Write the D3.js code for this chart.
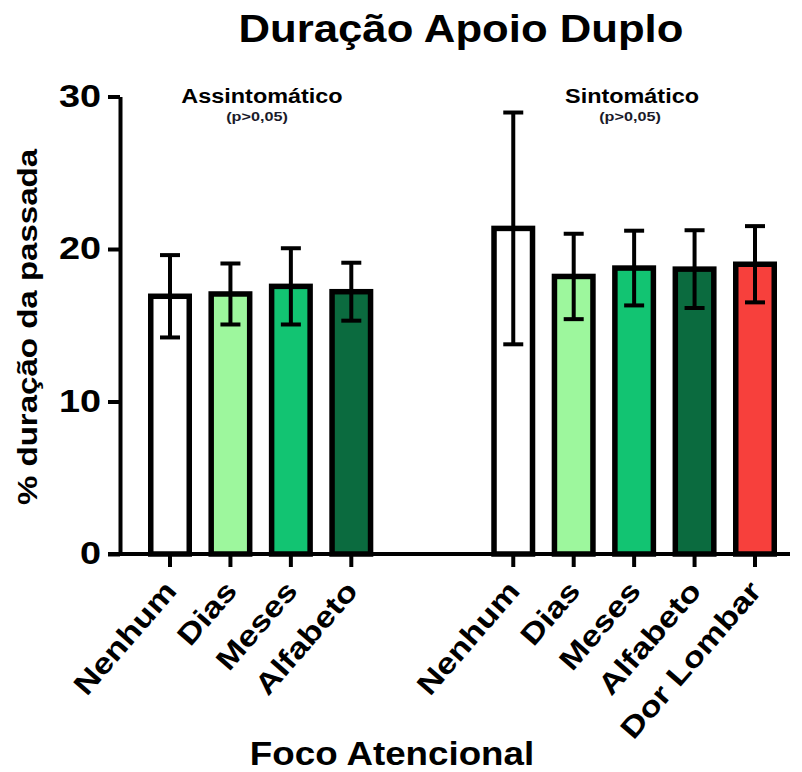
<!DOCTYPE html>
<html>
<head>
<meta charset="utf-8">
<script src="https://cdn.jsdelivr.net/npm/d3@7"></script>
<style>
  html, body { margin: 0; padding: 0; background: #fff; }
  svg { display: block; font-family: "Liberation Sans", Arial, sans-serif; }
</style>
</head>
<body>
<svg id="chart" width="802" height="772"></svg>
<script>
// Double-support duration (% of stride), mean ± SD per attentional focus
const groupNames = ["Assintomático", "Sintomático"];
const groupNotes = ["(p>0,05)", "(p>0,05)"];

const asympCategories = ["Nenhum", "Dias", "Meses", "Alfabeto"];
const asympMeans = [16.9, 17.05, 17.55, 17.2];
const asympSD = [2.7, 2.0, 2.5, 1.9];
const asympColors = ["#ffffff", "#9df79d", "#12c472", "#0b6b3f"];

const sympCategories = ["Nenhum", "Dias", "Meses", "Alfabeto", "Dor Lombar"];
const sympMeans = [21.35, 18.2, 18.75, 18.68, 19.0];
const sympSD = [7.6, 2.8, 2.45, 2.55, 2.5];
const sympColors = ["#ffffff", "#9df79d", "#12c472", "#0b6b3f", "#f7403c"];

const yTicks = [0, 10, 20, 30];

const title = "Duração Apoio Duplo";
const yTitle = "% duração da passada";
const xTitle = "Foco Atencional";

// Build flat bar list; each bar gets a slot index, with a wider gap between groups
const groupGap = 5.68;
const bars = [];
asympCategories.forEach((c, i) => bars.push({
  group: 0, cat: c, mean: asympMeans[i], sd: asympSD[i], color: asympColors[i], slot: i
}));
sympCategories.forEach((c, i) => bars.push({
  group: 1, cat: c, mean: sympMeans[i], sd: sympSD[i], color: sympColors[i], slot: groupGap + i
}));

const svg = d3.select("#chart");

// Widen text horizontally along its baseline (wide sans look)
function widen(sel, k) {
  sel.each(function () {
    const w = this.getComputedTextLength();
    d3.select(this).attr("textLength", w * k).attr("lengthAdjust", "spacingAndGlyphs");
  });
  return sel;
}

const x = d3.scaleLinear()
  .domain([0, groupGap + sympCategories.length - 1])
  .range([170, 755]);
const y = d3.scaleLinear().domain([0, 30]).range([554, 96.5]);

const axisX = 120;
const barW = 38.5;
const capW = 20;

// Title
widen(svg.append("text")
  .attr("x", 461).attr("y", 42)
  .attr("text-anchor", "middle")
  .attr("font-size", 39).attr("font-weight", "bold")
  .text(title), 1.12);

// Y axis
const yAxis = svg.append("g")
  .attr("transform", `translate(${axisX},0)`)
  .call(d3.axisLeft(y).tickValues(yTicks).tickSize(12).tickPadding(7).tickSizeOuter(0));
yAxis.select(".domain").attr("stroke", "#000").attr("stroke-width", 4);
yAxis.selectAll(".tick line").attr("stroke", "#000").attr("stroke-width", 4);
widen(yAxis.selectAll(".tick text")
  .attr("font-size", 31).attr("font-weight", "bold")
  .attr("font-family", "Liberation Sans, Arial, sans-serif")
  .attr("fill", "#000"), 1.22);

// Y title
widen(svg.append("text")
  .attr("transform", `translate(37,${327}) rotate(-90)`)
  .attr("text-anchor", "middle")
  .attr("font-size", 28).attr("font-weight", "bold")
  .text(yTitle), 1.18);

// Bars
svg.append("g").selectAll("rect")
  .data(bars).join("rect")
  .attr("x", d => x(d.slot) - barW / 2)
  .attr("y", d => y(d.mean))
  .attr("width", barW)
  .attr("height", d => y(0) - y(d.mean))
  .attr("fill", d => d.color)
  .attr("stroke", "#000")
  .attr("stroke-width", 5.5);

// Error bars
const eb = svg.append("g").attr("stroke", "#000").attr("stroke-width", 4);
eb.selectAll("line.v").data(bars).join("line").attr("class", "v")
  .attr("x1", d => x(d.slot)).attr("x2", d => x(d.slot))
  .attr("y1", d => y(d.mean - d.sd)).attr("y2", d => y(d.mean + d.sd));
eb.selectAll("line.top").data(bars).join("line").attr("class", "top")
  .attr("x1", d => x(d.slot) - capW / 2).attr("x2", d => x(d.slot) + capW / 2)
  .attr("y1", d => y(d.mean + d.sd)).attr("y2", d => y(d.mean + d.sd));
eb.selectAll("line.bot").data(bars).join("line").attr("class", "bot")
  .attr("x1", d => x(d.slot) - capW / 2).attr("x2", d => x(d.slot) + capW / 2)
  .attr("y1", d => y(d.mean - d.sd)).attr("y2", d => y(d.mean - d.sd));

// X axis line and ticks
svg.append("line")
  .attr("x1", axisX - 12).attr("x2", 790)
  .attr("y1", y(0)).attr("y2", y(0))
  .attr("stroke", "#000").attr("stroke-width", 4);
svg.append("g").selectAll("line")
  .data(bars).join("line")
  .attr("x1", d => x(d.slot)).attr("x2", d => x(d.slot))
  .attr("y1", y(0)).attr("y2", y(0) + 13)
  .attr("stroke", "#000").attr("stroke-width", 4);

// X tick labels, rotated
widen(svg.append("g").selectAll("text")
  .data(bars).join("text")
  .attr("transform", d => `translate(${x(d.slot) + 8},${y(0) + 38}) rotate(-49)`)
  .attr("text-anchor", "end")
  .attr("font-size", 29).attr("font-weight", "bold")
  .text(d => d.cat), 1.2);

// Group labels
const groupLabelX = [262, 632];
const noteX = [257, 630];
groupNames.forEach((n, i) => {
  widen(svg.append("text")
    .attr("x", groupLabelX[i]).attr("y", 103)
    .attr("text-anchor", "middle")
    .attr("font-size", 19.5).attr("font-weight", "bold")
    .text(n), 1.2);
  widen(svg.append("text")
    .attr("x", noteX[i]).attr("y", 121)
    .attr("text-anchor", "middle")
    .attr("font-size", 13.5).attr("font-weight", "bold")
    .attr("fill", "#1a1a2a")
    .text(groupNotes[i]), 1.2);
});

// X title
widen(svg.append("text")
  .attr("x", 392).attr("y", 765)
  .attr("text-anchor", "middle")
  .attr("font-size", 34).attr("font-weight", "bold")
  .text(xTitle), 1.08);
</script>
</body>
</html>
